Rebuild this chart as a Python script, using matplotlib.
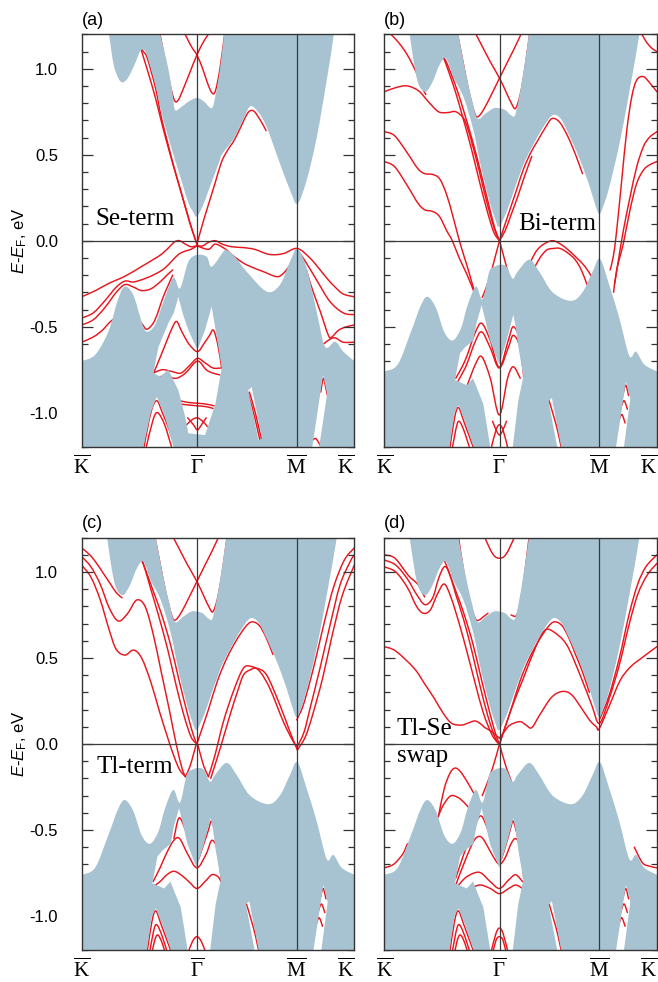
import numpy as np
import matplotlib
matplotlib.use('Agg')
import matplotlib.pyplot as plt
from matplotlib.path import Path
from matplotlib.patches import PathPatch

plt.rcParams['font.family'] = ['Liberation Sans', 'DejaVu Sans']
plt.rcParams['mathtext.fontset'] = 'custom'
plt.rcParams['mathtext.rm'] = 'Liberation Serif'
plt.rcParams['mathtext.it'] = 'Liberation Sans:italic'
plt.rcParams['mathtext.sf'] = 'Liberation Sans'
plt.rcParams['axes.unicode_minus'] = False

# ---------------- axes data ----------------
KPATH_POS = [0.0, 1.0, 1.866, 2.366]
KPATH_LABELS = [r'$\overline{\mathrm{K}}$', r'$\overline{\Gamma}$',
                r'$\overline{\mathrm{M}}$', r'$\overline{\mathrm{K}}$']
Y_TICKS = [-1.0, -0.5, 0.0, 0.5, 1.0]
Y_TICK_LABELS = ['-1.0', '-0.5', '0.0', '0.5', '1.0']
PANEL_TAGS = ['(a)', '(b)', '(c)', '(d)']
TERM_LABELS = ['Se-term', 'Bi-term', 'Tl-term', 'Tl-Se\nswap']

# ---------------- bulk projection, panel (a) ----------------
CB_A_K = [0.20, 0.231, 0.275, 0.318, 0.356, 0.405, 0.463, 0.506, 0.535, 0.564,
          0.636, 0.694, 0.752, 0.81, 0.87, 0.926, 0.965, 0.998, 1.05, 1.10,
          1.15, 1.20, 1.215, 1.316, 1.40, 1.461, 1.53, 1.606, 1.72, 1.808,
          1.872, 1.953, 2.04, 2.127, 2.185, 2.20]
CB_A_E = [1.30, 1.225, 1.03, 0.945, 0.92, 0.95, 1.03, 1.10, 1.11, 1.08,
          0.915, 0.74, 0.60, 0.47, 0.34, 0.22, 0.17, 0.14, 0.20, 0.29,
          0.38, 0.47, 0.50, 0.59, 0.70, 0.78, 0.75, 0.66, 0.45, 0.295,
          0.215, 0.353, 0.60, 0.935, 1.186, 1.30]
POCKET_A_K = [0.665, 0.71, 0.752, 0.79, 0.81, 0.87, 0.93, 1.0, 1.06, 1.128, 1.16, 1.2, 1.244]
POCKET_A_E = [1.25, 1.12, 1.0, 0.85, 0.76, 0.78, 0.81, 0.83, 0.81, 0.77, 0.84, 1.0, 1.25]
VB_A_K = [0.0, 0.116, 0.231, 0.318, 0.376, 0.448, 0.52, 0.564, 0.636, 0.709,
          0.795, 0.853, 0.926, 0.998, 1.085, 1.128, 1.23, 1.258, 1.33, 1.432,
          1.606, 1.72, 1.808, 1.872, 1.953, 2.04, 2.112, 2.2, 2.271, 2.366]
VB_A_E = [-0.70, -0.664, -0.529, -0.335, -0.267, -0.316, -0.47, -0.529, -0.49, -0.355,
          -0.215, -0.277, -0.122, -0.083, -0.093, -0.151, -0.064, -0.054, -0.093, -0.18,
          -0.296, -0.257, -0.122, -0.048, -0.16, -0.413, -0.616, -0.587, -0.645, -0.70]
HOLE1_A_K = [0.622, 0.665, 0.752, 0.80, 0.839, 0.88, 0.926, 1.004, 1.07, 1.128,
             1.17, 1.215, 1.16, 1.071, 0.926, 0.897, 0.839, 0.752, 0.68]
HOLE1_A_E = [-0.77, -0.62, -0.48, -0.42, -0.326, -0.43, -0.52, -0.635, -0.52, -0.383,
             -0.55, -0.74, -0.95, -1.13, -1.12, -1.02, -0.87, -0.75, -0.79]
TRI_A_K = [0.52, 0.6, 0.651, 0.72, 0.82]
TRI_A_E = [-1.25, -1.0, -0.907, -1.02, -1.25]
STRIP_A_K = [1.445, 1.475, 1.565, 1.535]
STRIP_A_E = [-0.87, -0.85, -1.15, -1.16]
WEDGE_A_K = [1.99, 2.095, 2.13, 2.05]
WEDGE_A_E = [-1.25, -0.78, -0.89, -1.25]

# ---------------- bulk projection, panels (b)-(d) ----------------
CB_S_K = [0.19, 0.217, 0.26, 0.30, 0.36, 0.42, 0.478, 0.535, 0.60, 0.686,
          0.773, 0.845, 0.918, 0.96, 0.995, 1.05, 1.09, 1.2, 1.287, 1.38,
          1.461, 1.53, 1.59, 1.693, 1.78, 1.83, 1.866, 1.90, 1.95, 2.04,
          2.127, 2.213, 2.23]
CB_S_E = [1.30, 1.215, 1.02, 0.905, 0.866, 0.925, 1.02, 1.06, 0.95, 0.837,
          0.644, 0.411, 0.218, 0.13, 0.08, 0.15, 0.22, 0.43, 0.55, 0.66,
          0.73, 0.71, 0.634, 0.48, 0.32, 0.21, 0.155, 0.2, 0.305, 0.56,
          0.866, 1.195, 1.30]
POCKET_S_K = [0.63, 0.70, 0.76, 0.81, 0.88, 0.95, 1.0, 1.05, 1.10, 1.14, 1.20, 1.265]
POCKET_S_E = [1.25, 1.0, 0.82, 0.71, 0.74, 0.77, 0.77, 0.76, 0.73, 0.74, 0.95, 1.25]
VB_S_K = [0.0, 0.116, 0.231, 0.318, 0.376, 0.448, 0.52, 0.593, 0.665, 0.723,
          0.795, 0.853, 0.911, 0.96, 1.007, 1.06, 1.114, 1.157, 1.258, 1.345,
          1.461, 1.62, 1.72, 1.808, 1.872, 1.953, 2.04, 2.127, 2.185, 2.257, 2.366]
VB_S_E = [-0.76, -0.72, -0.53, -0.375, -0.326, -0.39, -0.53, -0.58, -0.51, -0.375,
          -0.267, -0.34, -0.18, -0.15, -0.14, -0.15, -0.22, -0.18, -0.11, -0.18,
          -0.30, -0.35, -0.30, -0.18, -0.106, -0.26, -0.45, -0.67, -0.645, -0.72, -0.76]
HOLE1_S_K = [0.614, 0.657, 0.70, 0.773, 0.80, 0.845, 0.88, 0.917, 0.998, 1.062,
             1.12, 1.14, 1.163, 1.207, 1.163, 1.106, 0.932, 0.86, 0.77, 0.716]
HOLE1_S_E = [-0.81, -0.655, -0.62, -0.58, -0.48, -0.374, -0.47, -0.58, -0.72, -0.58,
             -0.43, -0.5, -0.616, -0.79, -0.93, -1.25, -1.25, -0.95, -0.80, -0.84]
TRI_S_K = [0.555, 0.61, 0.643, 0.70, 0.80]
TRI_S_E = [-1.25, -1.0, -0.955, -1.05, -1.25]
STRIP_S_K = [1.425, 1.455, 1.55, 1.515]
STRIP_S_E = [-0.93, -0.915, -1.25, -1.25]
WEDGE_S_K = [2.0, 2.097, 2.135, 2.07]
WEDGE_S_E = [-1.25, -0.82, -0.92, -1.25]

# ---------------- surface bands, panel (a) ----------------
A_D1 = ([0.50, 0.535, 0.57, 0.64, 0.69, 0.75, 0.80, 0.86, 0.92, 0.96, 1.0],
        [1.13, 1.10, 1.06, 0.89, 0.72, 0.56, 0.43, 0.29, 0.15, 0.06, -0.02])
A_D2 = ([0.45, 0.49, 0.53, 0.58, 0.64, 0.70, 0.76, 0.82, 0.88, 0.94, 0.98, 1.0],
        [1.25, 1.17, 1.08, 0.97, 0.83, 0.67, 0.52, 0.38, 0.24, 0.10, 0.02, -0.02])
A_P1 = ([0.665, 0.70, 0.74, 0.78, 0.81, 0.84, 0.88, 0.94, 1.0, 1.06, 1.11, 1.15],
        [1.25, 1.13, 0.99, 0.87, 0.81, 0.82, 0.88, 0.98, 1.08, 1.16, 1.21, 1.25])
A_P2 = ([0.86, 0.92, 0.96, 1.0, 1.05, 1.09, 1.13, 1.16, 1.2, 1.25],
        [1.25, 1.17, 1.12, 1.08, 1.0, 0.92, 0.86, 0.87, 1.0, 1.25])
A_R1 = ([1.0, 1.05, 1.1, 1.16, 1.215, 1.27, 1.32, 1.38, 1.43, 1.461, 1.5, 1.56, 1.6],
        [-0.02, 0.1, 0.21, 0.34, 0.46, 0.53, 0.58, 0.66, 0.73, 0.755, 0.75, 0.69, 0.64])
A_V1 = ([0.0, 0.12, 0.23, 0.38, 0.52, 0.62, 0.70, 0.77, 0.81, 0.85, 0.9, 0.95, 1.0, 1.05, 1.1,
         1.16, 1.22, 1.3, 1.4, 1.5, 1.63, 1.75, 1.87, 1.98, 2.07, 2.13, 2.2, 2.27, 2.366],
        [-0.326, -0.29, -0.25, -0.205, -0.15, -0.11, -0.075, -0.03, -0.005, 0.0, -0.02, -0.035,
         -0.03, -0.03, -0.01, 0.0, -0.02, -0.035, -0.04, -0.05, -0.08, -0.075, -0.045, -0.1,
         -0.17, -0.22, -0.27, -0.31, -0.326])
A_V2 = ([1.0, 1.1, 1.16, 1.25, 1.3, 1.403, 1.5, 1.577, 1.692, 1.75, 1.808, 1.85, 1.872,
         1.95, 2.04, 2.155, 2.271, 2.366],
        [-0.03, -0.05, -0.02, -0.05, -0.08, -0.13, -0.16, -0.18, -0.209, -0.19, -0.14, -0.08,
         -0.055, -0.13, -0.23, -0.354, -0.42, -0.43])
A_V2L = ([0.0, 0.1, 0.2, 0.3, 0.376, 0.45, 0.55, 0.65, 0.72, 0.78, 0.84, 0.9, 0.95, 1.0],
         [-0.45, -0.42, -0.35, -0.27, -0.235, -0.24, -0.22, -0.19, -0.16, -0.12, -0.08, -0.06, -0.05, -0.03])
A_V3L = ([0.0, 0.1, 0.2, 0.3, 0.376, 0.45, 0.52, 0.6, 0.68, 0.74, 0.79],
         [-0.49, -0.46, -0.39, -0.30, -0.255, -0.27, -0.29, -0.28, -0.24, -0.20, -0.17])
A_V4L = ([0.0, 0.1, 0.18, 0.25, 0.32, 0.4, 0.47, 0.52, 0.564, 0.62, 0.66, 0.70, 0.75, 0.79],
         [-0.59, -0.56, -0.52, -0.47, -0.44, -0.43, -0.45, -0.48, -0.515, -0.48, -0.42, -0.34, -0.26, -0.2])
A_V3 = ([1.95, 2.0, 2.07, 2.141, 2.17, 2.23, 2.3, 2.366],
        [-0.17, -0.28, -0.41, -0.55, -0.56, -0.52, -0.50, -0.49])
A_V4 = ([2.1, 2.15, 2.2, 2.27, 2.366], [-0.6, -0.575, -0.565, -0.59, -0.59])
A_H1 = ([0.63, 0.68, 0.74, 0.79, 0.825, 0.87, 0.93, 1.004, 1.06, 1.11, 1.143, 1.18, 1.215],
        [-0.76, -0.68, -0.58, -0.50, -0.47, -0.53, -0.60, -0.645, -0.60, -0.55, -0.52, -0.60, -0.74])
A_H2 = ([0.62, 0.70, 0.78, 0.86, 0.93, 1.004, 1.07, 1.14, 1.21],
        [-0.77, -0.75, -0.76, -0.77, -0.73, -0.684, -0.71, -0.74, -0.74])
A_H3 = ([0.68, 0.75, 0.82, 0.9, 1.004, 1.08, 1.14, 1.2],
        [-0.79, -0.79, -0.80, -0.77, -0.70, -0.75, -0.77, -0.78])
A_H4 = ([0.85, 0.92, 1.004, 1.08, 1.15], [-0.93, -0.94, -0.945, -0.95, -0.96])
A_H5 = ([0.86, 0.92, 1.004, 1.08, 1.14], [-0.95, -0.955, -0.96, -0.965, -0.975])
A_H6 = ([0.91, 0.96, 1.004, 1.05, 1.09], [-1.07, -1.04, -1.03, -1.05, -1.08])
A_H7 = ([0.92, 0.97, 1.004, 1.04, 1.08], [-1.03, -1.07, -1.1, -1.07, -1.03])
A_T1 = ([0.54, 0.6, 0.651, 0.7, 0.76, 0.82], [-1.2, -1.0, -0.93, -1.0, -1.1, -1.22])
A_T2 = ([0.56, 0.62, 0.66, 0.72, 0.78], [-1.2, -1.04, -1.0, -1.07, -1.2])
A_S1 = ([1.44, 1.48, 1.52, 1.56], [-0.88, -0.97, -1.08, -1.2])
A_S2 = ([1.455, 1.495, 1.535, 1.575], [-0.88, -0.97, -1.08, -1.2])
A_W1 = ([2.075, 2.097, 2.12, 2.14], [-0.88, -0.80, -0.86, -0.92])
A_W2 = ([1.99, 2.03, 2.07], [-1.17, -1.15, -1.19])

# ---------------- surface bands, panel (b) ----------------
B_1 = ([0.03, 0.1, 0.15, 0.2, 0.24, 0.29, 0.33, 0.36],
       [1.22, 1.17, 1.13, 1.08, 1.03, 0.96, 0.89, 0.85])
B_2 = ([0.0, 0.1, 0.2, 0.3, 0.38, 0.47, 0.55, 0.62, 0.69, 0.73, 0.76, 0.80, 0.84, 0.88, 0.92, 0.96, 1.0],
       [0.866, 0.89, 0.9, 0.87, 0.81, 0.75, 0.745, 0.75, 0.71, 0.64, 0.57, 0.47, 0.36, 0.25, 0.15, 0.06, 0.0])
B_3 = ([0.0, 0.09, 0.2, 0.29, 0.35, 0.42, 0.48, 0.54, 0.6, 0.66, 0.72, 0.78],
       [0.634, 0.61, 0.51, 0.42, 0.39, 0.385, 0.36, 0.27, 0.13, -0.02, -0.15, -0.29])
B_4 = ([0.0, 0.09, 0.2, 0.29, 0.35, 0.42, 0.48, 0.54, 0.59, 0.65, 0.72, 0.78],
       [0.46, 0.43, 0.32, 0.22, 0.18, 0.17, 0.14, 0.06, 0.0, -0.1, -0.2, -0.3])
B_D1 = ([0.49, 0.53, 0.58, 0.64, 0.70, 0.77, 0.84, 0.91, 0.96, 1.0],
        [1.08, 1.05, 0.97, 0.86, 0.73, 0.57, 0.39, 0.2, 0.07, 0.0])
B_D2 = ([0.47, 0.51, 0.56, 0.62, 0.68, 0.75, 0.82, 0.89, 0.95, 1.0],
        [1.12, 1.07, 0.98, 0.86, 0.72, 0.55, 0.36, 0.18, 0.05, 0.0])
S_P1 = ([0.63, 0.68, 0.73, 0.78, 0.81, 0.86, 0.93, 1.0, 1.07, 1.13, 1.2],
        [1.22, 1.05, 0.88, 0.75, 0.72, 0.76, 0.85, 0.945, 1.04, 1.12, 1.22])
S_P2 = ([0.78, 0.85, 0.92, 1.0, 1.06, 1.11, 1.14, 1.18, 1.22, 1.265],
        [1.22, 1.13, 1.04, 0.945, 0.86, 0.79, 0.77, 0.85, 1.0, 1.22])
B_R1 = ([1.0, 1.04, 1.09, 1.15, 1.21, 1.27, 1.33, 1.40, 1.455, 1.52, 1.59, 1.66, 1.72],
        [0.0, 0.08, 0.18, 0.3, 0.42, 0.51, 0.58, 0.66, 0.71, 0.69, 0.61, 0.5, 0.39])
B_R2 = ([1.0, 1.05, 1.1, 1.16, 1.22, 1.28], [0.0, 0.06, 0.15, 0.26, 0.38, 0.49])
B_C1 = ([1.0, 0.96, 0.92, 0.88, 0.85], [0.0, -0.1, -0.2, -0.28, -0.33])
B_C2 = ([1.0, 1.04, 1.08, 1.12, 1.16], [0.0, -0.1, -0.2, -0.3, -0.38])
B_G1 = ([1.265, 1.31, 1.352, 1.41, 1.467, 1.53, 1.597, 1.67, 1.742, 1.8],
        [-0.13, -0.07, -0.036, -0.01, 0.0, -0.02, -0.054, -0.1, -0.15, -0.21])
B_G2 = ([1.294, 1.35, 1.41, 1.47, 1.525, 1.59, 1.656, 1.71, 1.757, 1.79],
        [-0.17, -0.1, -0.054, -0.045, -0.045, -0.07, -0.11, -0.17, -0.25, -0.3])
B_M0 = ([2.22, 2.27, 2.32, 2.366], [1.22, 1.16, 1.12, 1.1])
B_M1 = ([1.96, 1.988, 2.017, 2.061, 2.105, 2.148, 2.191, 2.249, 2.307, 2.366],
        [-0.17, -0.09, 0.06, 0.354, 0.644, 0.837, 0.934, 0.954, 0.915, 0.866])
B_M2 = ([2.0, 2.032, 2.075, 2.133, 2.191, 2.249, 2.3, 2.366],
        [-0.25, -0.113, 0.06, 0.254, 0.43, 0.547, 0.6, 0.634])
B_M3 = ([1.99, 2.017, 2.075, 2.133, 2.191, 2.249, 2.3, 2.366],
        [-0.3, -0.17, -0.015, 0.18, 0.334, 0.41, 0.44, 0.46])
B_H1 = ([0.62, 0.67, 0.715, 0.787, 0.845, 0.918, 0.998, 1.077, 1.12, 1.178, 1.21],
        [-0.80, -0.74, -0.674, -0.538, -0.48, -0.577, -0.736, -0.577, -0.50, -0.577, -0.75])
B_H2 = ([0.62, 0.67, 0.715, 0.787, 0.845, 0.918, 0.998, 1.077, 1.12, 1.178, 1.21],
        [-0.84, -0.78, -0.72, -0.59, -0.53, -0.62, -0.74, -0.62, -0.55, -0.62, -0.79])
B_H3 = ([0.72, 0.79, 0.845, 0.92, 0.998, 1.07, 1.12, 1.18],
        [-0.84, -0.72, -0.674, -0.80, -1.013, -0.80, -0.733, -0.80])
B_H4 = ([0.93, 0.97, 1.0, 1.03, 1.07], [-1.2, -1.1, -1.07, -1.1, -1.2])
B_H5 = ([0.94, 0.97, 1.0, 1.03, 1.06], [-1.05, -1.1, -1.13, -1.1, -1.05])
S_T1 = ([0.57, 0.61, 0.643, 0.69, 0.75, 0.8], [-1.2, -1.03, -0.97, -1.05, -1.16, -1.25])
S_T2 = ([0.58, 0.62, 0.65, 0.7, 0.76], [-1.25, -1.1, -1.05, -1.12, -1.25])
S_S1 = ([1.43, 1.47, 1.51, 1.55], [-0.93, -1.02, -1.12, -1.25])
S_W1 = ([2.07, 2.095, 2.12], [-0.9, -0.84, -0.9])
S_W2 = ([2.05, 2.08, 2.11], [-0.98, -0.93, -0.98])
S_W3 = ([2.03, 2.06, 2.09], [-1.06, -1.01, -1.06])

# ---------------- surface bands, panel (c) ----------------
C_1 = ([0.0, 0.07, 0.13, 0.19, 0.25, 0.3, 0.35], [1.14, 1.1, 1.05, 0.99, 0.93, 0.88, 0.85])
C_2 = ([0.0, 0.08, 0.16, 0.24, 0.318, 0.4, 0.477, 0.55, 0.62, 0.69, 0.76, 0.82, 0.87, 0.9],
       [1.09, 1.03, 0.93, 0.79, 0.715, 0.76, 0.837, 0.80, 0.64, 0.42, 0.2, 0.0, -0.14, -0.19])
C_3 = ([0.0, 0.08, 0.16, 0.24, 0.3, 0.376, 0.45, 0.52, 0.6, 0.67, 0.74, 0.8, 0.85, 0.9],
       [1.04, 0.97, 0.84, 0.66, 0.55, 0.517, 0.546, 0.5, 0.36, 0.2, 0.05, -0.07, -0.15, -0.19])
C_D1 = ([0.5, 0.55, 0.62, 0.69, 0.77, 0.845, 0.92, 0.97, 1.0],
        [1.1, 1.02, 0.89, 0.76, 0.58, 0.37, 0.17, 0.05, 0.0])
C_D2 = ([0.48, 0.53, 0.6, 0.67, 0.75, 0.82, 0.89, 0.95, 1.0],
        [1.15, 1.06, 0.9, 0.74, 0.54, 0.34, 0.16, 0.04, 0.0])
C_V = ([0.9, 0.94, 0.97, 1.0, 1.03, 1.06, 1.1], [-0.19, -0.13, -0.06, 0.0, -0.06, -0.13, -0.19])
C_R1 = ([1.1, 1.157, 1.23, 1.316, 1.403, 1.476, 1.548, 1.635, 1.75, 1.837, 1.872],
        [-0.19, -0.064, 0.13, 0.305, 0.44, 0.45, 0.42, 0.32, 0.13, 0.013, -0.015])
C_R2 = ([1.12, 1.2, 1.287, 1.35, 1.403, 1.46, 1.52, 1.606, 1.72, 1.808, 1.872],
        [-0.2, -0.03, 0.168, 0.30, 0.40, 0.43, 0.44, 0.40, 0.227, 0.07, -0.035])
C_RD = ([1.0, 1.05, 1.1, 1.18, 1.26, 1.34, 1.42, 1.476, 1.54, 1.6, 1.66],
        [0.0, 0.1, 0.2, 0.37, 0.5, 0.6, 0.68, 0.71, 0.69, 0.62, 0.52])
C_M1 = ([1.872, 1.93, 1.982, 2.068, 2.155, 2.242, 2.33, 2.366],
        [-0.015, 0.07, 0.207, 0.44, 0.69, 0.925, 1.06, 1.1])
C_M2 = ([1.872, 1.94, 2.0, 2.09, 2.17, 2.26, 2.366],
        [-0.035, 0.04, 0.16, 0.38, 0.62, 0.86, 1.04])
C_M3 = ([1.866, 1.92, 1.98, 2.04, 2.11, 2.19, 2.28, 2.366],
        [0.14, 0.22, 0.36, 0.52, 0.72, 0.92, 1.07, 1.14])
C_H1 = ([0.8, 0.845, 0.9, 0.95, 1.0, 1.05, 1.1, 1.128, 1.17, 1.2],
        [-0.55, -0.43, -0.5, -0.6, -0.68, -0.6, -0.5, -0.45, -0.55, -0.7])
C_H2 = ([0.62, 0.68, 0.74, 0.8, 0.85, 0.92, 1.0, 1.08, 1.13, 1.18, 1.21],
        [-0.8, -0.72, -0.63, -0.56, -0.55, -0.64, -0.72, -0.64, -0.56, -0.62, -0.78])
C_H3 = ([0.62, 0.68, 0.74, 0.8, 0.86, 0.93, 1.0, 1.07, 1.13, 1.18, 1.21],
        [-0.83, -0.8, -0.76, -0.74, -0.76, -0.8, -0.84, -0.8, -0.76, -0.77, -0.8])
C_H4 = ([0.92, 0.96, 1.0, 1.04, 1.08], [-1.22, -1.15, -1.12, -1.15, -1.22])
C_T3 = ([0.6, 0.63, 0.66, 0.7, 0.74], [-1.25, -1.15, -1.11, -1.16, -1.25])

# ---------------- surface bands, panel (d) ----------------
D_1 = ([0.0, 0.093, 0.209, 0.295, 0.35], [1.1, 1.08, 0.98, 0.925, 0.855])
D_2 = ([0.0, 0.1, 0.2, 0.28, 0.353, 0.42, 0.47, 0.52, 0.56, 0.62, 0.69, 0.76, 0.83, 0.9, 0.96, 1.0],
       [1.07, 1.04, 0.96, 0.87, 0.81, 0.85, 0.96, 1.03, 1.0, 0.87, 0.72, 0.54, 0.34, 0.16, 0.04, 0.0])
D_3 = ([0.0, 0.1, 0.2, 0.28, 0.34, 0.4, 0.46, 0.52, 0.58, 0.65, 0.72, 0.79, 0.86, 0.93, 0.98, 1.0],
       [1.03, 1.0, 0.91, 0.8, 0.76, 0.78, 0.87, 0.93, 0.85, 0.7, 0.53, 0.35, 0.18, 0.06, 0.01, 0.0])
D_D1 = ([0.5, 0.55, 0.62, 0.69, 0.77, 0.845, 0.92, 0.97, 1.0],
        [1.1, 1.02, 0.89, 0.76, 0.58, 0.37, 0.17, 0.05, 0.0])
D_4 = ([0.0, 0.1, 0.259, 0.35, 0.433, 0.51, 0.585, 0.672, 0.72, 0.787, 0.84, 0.874, 0.932, 1.0],
       [0.566, 0.54, 0.44, 0.35, 0.266, 0.18, 0.12, 0.11, 0.12, 0.134, 0.115, 0.095, 0.072, 0.033])
D_R3 = ([1.0, 1.04, 1.091, 1.178, 1.23, 1.28, 1.35, 1.45, 1.54, 1.62, 1.7, 1.78, 1.84, 1.866,
         1.959, 2.046, 2.133, 2.249, 2.366],
        [0.033, 0.07, 0.11, 0.13, 0.11, 0.095, 0.17, 0.27, 0.305, 0.29, 0.22, 0.14, 0.1, 0.09,
         0.232, 0.368, 0.446, 0.508, 0.566])
D_R2 = ([1.0, 1.1, 1.207, 1.322, 1.395, 1.467, 1.583, 1.7, 1.8, 1.866, 1.95, 2.04, 2.127, 2.2, 2.28, 2.366],
        [0.0, 0.2, 0.382, 0.577, 0.662, 0.653, 0.577, 0.4, 0.227, 0.12, 0.26, 0.46, 0.7, 0.87, 0.98, 1.05])
D_R1 = ([1.0, 1.05, 1.1, 1.18, 1.26, 1.34, 1.42, 1.476, 1.54, 1.6, 1.66, 1.72, 1.78],
        [0.0, 0.1, 0.2, 0.37, 0.5, 0.6, 0.68, 0.71, 0.69, 0.62, 0.52, 0.42, 0.3])
D_RM1 = ([1.866, 1.95, 2.04, 2.127, 2.2, 2.27, 2.366], [0.14, 0.28, 0.5, 0.76, 0.93, 1.03, 1.1])
D_V1 = ([0.47, 0.52, 0.57, 0.614, 0.66, 0.72, 0.78, 0.82],
        [-0.42, -0.26, -0.17, -0.14, -0.16, -0.22, -0.29, -0.33])
D_V2 = ([0.44, 0.5, 0.56, 0.6, 0.66, 0.72, 0.76, 0.8],
        [-0.47, -0.37, -0.31, -0.30, -0.32, -0.36, -0.39, -0.42])
D_C1 = ([1.0, 0.94, 0.88, 0.85], [0.0, -0.14, -0.25, -0.3])
D_C2 = ([1.0, 1.06, 1.13], [0.0, -0.14, -0.26])
D_K1 = ([0.0, 0.08, 0.16, 0.2], [-0.72, -0.70, -0.64, -0.58])
D_K2 = ([2.17, 2.24, 2.3, 2.366], [-0.6, -0.69, -0.71, -0.72])
D_P1 = ([0.86, 0.92, 0.96, 1.0, 1.04, 1.08, 1.14], [1.22, 1.13, 1.09, 1.08, 1.09, 1.13, 1.22])
D_P2 = ([0.64, 0.69, 0.74, 0.79, 0.82, 0.86, 0.9], [1.22, 1.0, 0.83, 0.73, 0.72, 0.74, 0.76])
D_P3 = ([1.1, 1.15, 1.19, 1.22, 1.26], [0.75, 0.75, 0.86, 1.0, 1.22])
D_H1 = ([0.62, 0.68, 0.74, 0.8, 0.845, 0.9, 0.95, 1.0, 1.05, 1.1, 1.12, 1.16, 1.21],
        [-0.78, -0.66, -0.55, -0.45, -0.42, -0.5, -0.6, -0.68, -0.6, -0.48, -0.45, -0.55, -0.75])
D_H2 = ([0.62, 0.7, 0.78, 0.84, 0.9, 0.95, 1.0, 1.05, 1.1, 1.14, 1.18, 1.21],
        [-0.82, -0.68, -0.56, -0.54, -0.6, -0.66, -0.7, -0.66, -0.58, -0.55, -0.6, -0.78])
D_H3 = ([0.62, 0.7, 0.78, 0.84, 0.92, 1.0, 1.08, 1.14, 1.2],
        [-0.84, -0.78, -0.75, -0.75, -0.8, -0.84, -0.79, -0.76, -0.8])
D_H4 = ([0.7, 0.78, 0.84, 0.92, 1.0, 1.08, 1.14, 1.2],
        [-0.86, -0.83, -0.82, -0.84, -0.87, -0.84, -0.82, -0.84])
D_H5 = ([0.93, 0.97, 1.0, 1.03, 1.07], [-1.2, -1.1, -1.07, -1.1, -1.2])
D_H6 = ([0.94, 0.97, 1.0, 1.03, 1.06], [-1.22, -1.14, -1.12, -1.14, -1.22])

LINES = [
    [A_D1, A_D2, A_P1, A_P2, A_R1, A_V1, A_V2, A_V2L, A_V3L, A_V4L, A_V3, A_V4,
     A_H1, A_H2, A_H3, A_H4, A_H5, A_H6, A_H7, A_T1, A_T2, A_S1, A_S2, A_W1, A_W2],
    [B_1, B_2, B_3, B_4, B_D1, B_D2, S_P1, S_P2, B_R1, B_R2, B_C1, B_C2, B_G1, B_G2,
     B_M0, B_M1, B_M2, B_M3, B_H1, B_H2, B_H3, B_H4, B_H5, S_T1, S_T2, S_S1, S_W1, S_W2, S_W3],
    [C_1, C_2, C_3, C_D1, C_D2, C_V, C_R1, C_R2, C_RD, C_M1, C_M2, C_M3, S_P1, S_P2,
     C_H1, C_H2, C_H3, C_H4, S_T1, S_T2, C_T3, S_S1, S_W1, S_W2, S_W3],
    [D_1, D_2, D_3, D_D1, D_4, D_R3, D_R2, D_R1, D_RM1, D_V1, D_V2, D_C1, D_C2, D_K1, D_K2,
     D_P1, D_P2, D_P3, D_H1, D_H2, D_H3, D_H4, D_H5, D_H6, S_T1, S_T2, C_T3, S_S1,
     S_W1, S_W2, S_W3],
]

GRAY = '#a7c2d1'
RED = '#e8161e'
REF = '#3a3a3a'


def signed_area(p):
    x, y = p[:, 0], p[:, 1]
    return 0.5 * np.sum(x * np.roll(y, -1) - np.roll(x, -1) * y)


def smooth_segments(pts):
    """Bezier control points of a Catmull-Rom curve through pts (drawing only)."""
    P = np.vstack([pts[0], pts, pts[-1]])
    verts = []
    for i in range(len(pts) - 1):
        p0, p1, p2, p3 = P[i], P[i + 1], P[i + 2], P[i + 3]
        verts += [p1 + (p2 - p0) / 6.0, p2 - (p3 - p1) / 6.0, p2]
    return verts


def ring(smooth_pts, corner_pts, want_ccw):
    smooth_pts = np.asarray(smooth_pts, float)
    corner_pts = np.asarray(corner_pts, float).reshape(-1, 2)
    raw = np.vstack([smooth_pts, corner_pts])
    if (signed_area(raw) > 0) != want_ccw:
        smooth_pts = smooth_pts[::-1]
        corner_pts = corner_pts[::-1]
    verts = [smooth_pts[0]]
    codes = [Path.MOVETO]
    if len(smooth_pts) > 1:
        sv = smooth_segments(smooth_pts)
        verts += sv
        codes += [Path.CURVE4] * len(sv)
    for c in corner_pts:
        verts.append(c)
        codes.append(Path.LINETO)
    verts.append(smooth_pts[0])
    codes.append(Path.CLOSEPOLY)
    return verts, codes


def straight_ring(k, e, want_ccw):
    p = np.column_stack([k, e]).astype(float)
    return ring(p[:1], p[1:], want_ccw)


def bulk_paths(cb_k, cb_e, pk, pe, vb_k, vb_e, holes):
    v1, c1 = ring(np.column_stack([cb_k, cb_e]), np.empty((0, 2)), True)
    v2, c2 = ring(np.column_stack([pk, pe]), np.empty((0, 2)), False)
    cond = Path(np.array(v1 + v2), c1 + c2)
    corners = [[2.5, vb_e[-1]], [2.5, -1.3], [-0.1, -1.3], [-0.1, vb_e[0]]]
    verts, codes = ring(np.column_stack([vb_k, vb_e]), corners, True)
    for hk, he in holes:
        hv, hc = straight_ring(hk, he, False)
        verts += hv
        codes += hc
    val = Path(np.array(verts), codes)
    return cond, val


def smooth_line_path(k, e):
    pts = np.column_stack([k, e]).astype(float)
    sv = smooth_segments(pts)
    return Path(np.array([pts[0]] + sv), [Path.MOVETO] + [Path.CURVE4] * len(sv))


BULK = [
    bulk_paths(CB_A_K, CB_A_E, POCKET_A_K, POCKET_A_E, VB_A_K, VB_A_E,
               [(HOLE1_A_K, HOLE1_A_E), (TRI_A_K, TRI_A_E), (STRIP_A_K, STRIP_A_E),
                (WEDGE_A_K, WEDGE_A_E)]),
]
shared = bulk_paths(CB_S_K, CB_S_E, POCKET_S_K, POCKET_S_E, VB_S_K, VB_S_E,
                    [(HOLE1_S_K, HOLE1_S_E), (TRI_S_K, TRI_S_E), (STRIP_S_K, STRIP_S_E),
                     (WEDGE_S_K, WEDGE_S_E)])
BULK += [shared, shared, shared]

W, H = 658, 982
fig = plt.figure(figsize=(W / 100, H / 100), dpi=100)
ax_w = 272.6 / W
ax_h = 412.8 / H
lefts = [81.7, 384.3, 81.7, 384.3]
tops = [34.3, 34.3, 537.6, 537.6]
zero_y = [240.7, 240.7, 744.0, 744.0]

for i in range(4):
    ax = fig.add_axes([lefts[i] / W, 1 - (tops[i] + 412.8) / H, ax_w, ax_h])
    ax.set_xlim(KPATH_POS[0], KPATH_POS[-1])
    ax.set_ylim(-1.2, 1.2)
    for k, e in LINES[i]:
        ax.add_patch(PathPatch(smooth_line_path(k, e), facecolor='none', edgecolor=RED,
                               lw=1.05, zorder=1, capstyle='round', joinstyle='round'))
    cond, val = BULK[i]
    ax.add_patch(PathPatch(cond, facecolor=GRAY, edgecolor='none', zorder=2))
    ax.add_patch(PathPatch(val, facecolor=GRAY, edgecolor='none', zorder=2))
    ax.axhline(0.0, color=REF, lw=0.9, zorder=3)
    for xv in KPATH_POS[1:3]:
        ax.axvline(xv, color=REF, lw=0.9, zorder=3)
    ax.set_xticks(KPATH_POS)
    ax.set_xticklabels(KPATH_LABELS, fontsize=15)
    ax.get_xticklabels()[-1].set_horizontalalignment('right')
    ax.tick_params(axis='x', length=0, pad=5)
    ax.set_yticks(Y_TICKS)
    ax.set_yticks(np.arange(-12, 13) / 10.0, minor=True)
    ax.tick_params(axis='y', which='both', direction='in', left=True, right=True,
                   width=0.9, color='#333333')
    ax.tick_params(axis='y', which='major', length=8)
    ax.tick_params(axis='y', which='minor', length=4.5)
    if i % 2 == 0:
        ax.set_yticklabels(Y_TICK_LABELS, fontsize=12)
        ax.tick_params(axis='y', pad=17)
        fig.text(20 / W, 1 - zero_y[i] / H, r'$E$-$E_{\mathsf{F}}$, eV', rotation=90,
                 ha='center', va='center', fontsize=12)
    else:
        ax.set_yticklabels([])
    for sp in ax.spines.values():
        sp.set_linewidth(1.0)
        sp.set_color('#333333')
        sp.set_zorder(5)
    fig.text(lefts[i] / W, 1 - (tops[i] - 14) / H, PANEL_TAGS[i], ha='left', va='center',
             fontsize=13)

axs = fig.axes
axs[0].text(0.12, 0.09, TERM_LABELS[0], family='Liberation Serif', fontsize=18,
            ha='left', va='baseline', zorder=4)
axs[1].text(1.163, 0.062, TERM_LABELS[1], family='Liberation Serif', fontsize=18,
            ha='left', va='baseline', zorder=4)
axs[2].text(0.13, -0.17, TERM_LABELS[2], family='Liberation Serif', fontsize=18,
            ha='left', va='baseline', zorder=4)
term_d = TERM_LABELS[3].split('\n')
axs[3].text(0.108, 0.052, term_d[0], family='Liberation Serif', fontsize=18,
            ha='left', va='baseline', zorder=4)
axs[3].text(0.108, -0.103, term_d[1], family='Liberation Serif', fontsize=18,
            ha='left', va='baseline', zorder=4)

fig.savefig('out.png', dpi=100)
